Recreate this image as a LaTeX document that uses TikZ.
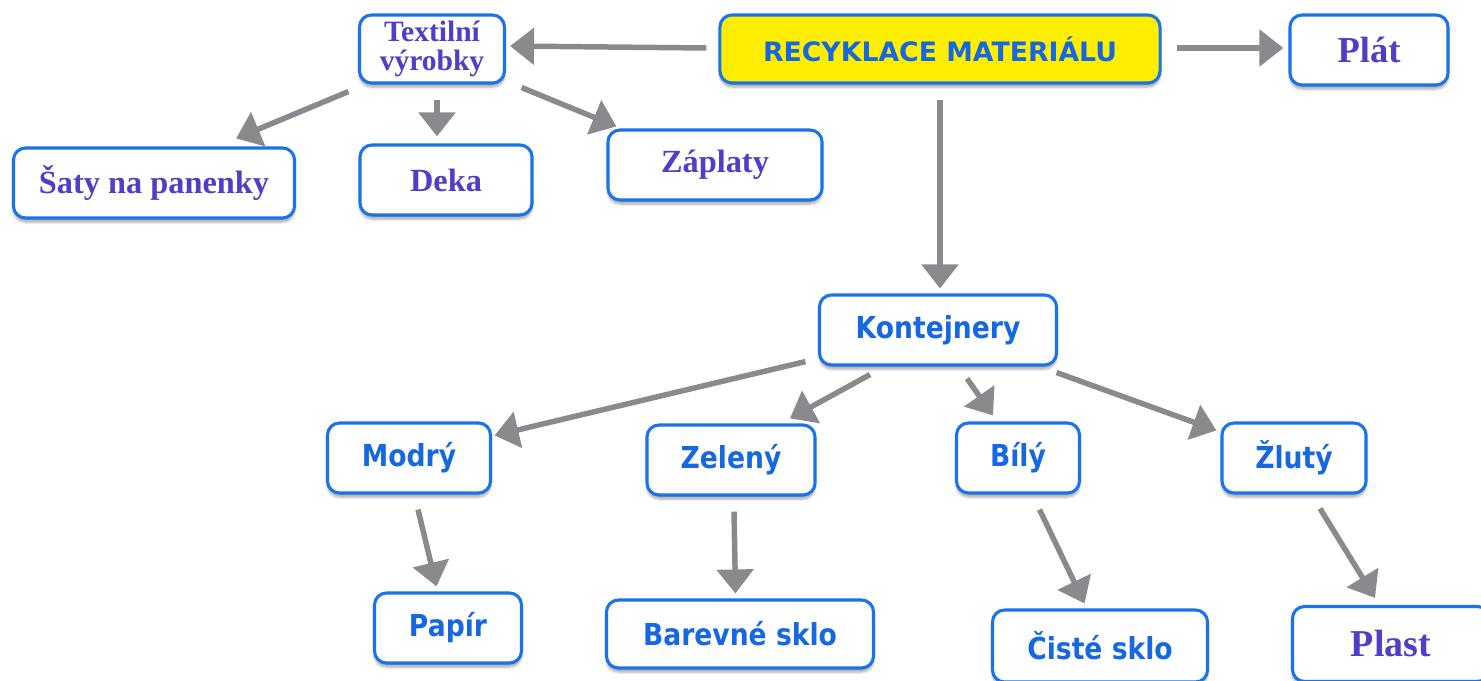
\documentclass[tikz,border=0pt]{standalone}
\usepackage{fontspec}
\setmainfont{Liberation Serif}
\setsansfont{DejaVu Sans}
\newfontfamily\narrowsans[FakeStretch=0.88]{DejaVu Sans}
\usetikzlibrary{arrows.meta}
\usetikzlibrary{shadows.blur}
\definecolor{boxblue}{RGB}{26,115,232}
\definecolor{txtblue}{RGB}{22,104,226}
\definecolor{txtviolet}{RGB}{78,62,200}
\definecolor{arrgray}{RGB}{138,138,142}
\definecolor{recyellow}{RGB}{255,238,0}

\begin{document}
\begin{tikzpicture}[x=0.025cm,y=-0.025cm,
  box/.style={draw=boxblue,line width=2.2pt,rounded corners=0.3cm,fill=white,inner sep=0pt,
    blur shadow={shadow xshift=0pt,shadow yshift=-0.1cm,shadow blur steps=6,shadow opacity=35}},
  serlabel/.style={font=\rmfamily\bfseries\fontsize{23}{23}\selectfont,text=txtviolet},
  sanslabel/.style={font=\narrowsans\bfseries\fontsize{21.5}{21.5}\selectfont,text=txtblue},
  arr/.style={draw=arrgray,line width=3.9pt,-{Triangle[length=0.6cm,width=0.9cm]}}]
\useasboundingbox (0,0) rectangle (1481,680);

\node[box,sanslabel,font=\sffamily\bfseries\fontsize{19}{19}\selectfont,fill=recyellow,minimum width=11cm,minimum height=1.7cm] (rec) at (940,49) {RECYKLACE MATERIÁLU};
\node[box,serlabel,align=center,font=\rmfamily\bfseries\fontsize{21}{21}\selectfont,minimum width=3.625cm,minimum height=1.7cm] (tex) at (432,49) {Textilní\\výrobky};
\node[box,serlabel,font=\rmfamily\bfseries\fontsize{26}{26}\selectfont,minimum width=3.95cm,minimum height=1.75cm] (plat) at (1369,50) {Plát};

\node[box,serlabel,minimum width=7.025cm,minimum height=1.75cm] (saty) at (154,183) {Šaty na panenky};
\node[box,serlabel,minimum width=4.3cm,minimum height=1.75cm] (deka) at (446,180) {Deka};
\node[box,serlabel,minimum width=5.35cm,minimum height=1.75cm] (zap) at (715,165) {Záplaty};

\node[box,sanslabel,minimum width=5.925cm,minimum height=1.75cm] (kon) at (938,330) {Kontejnery};
\node[box,sanslabel,minimum width=4.075cm,minimum height=1.75cm] (mod) at (409,458) {Modrý};
\node[box,sanslabel,minimum width=4.2cm,minimum height=1.75cm] (zel) at (731,460) {Zelený};
\node[box,sanslabel,minimum width=3.075cm,minimum height=1.75cm] (bil) at (1018,458) {Bílý};
\node[box,sanslabel,minimum width=3.6cm,minimum height=1.75cm] (zlu) at (1294,458) {Žlutý};

\node[box,sanslabel,minimum width=3.675cm,minimum height=1.75cm] (pap) at (448,628) {Papír};
\node[box,sanslabel,minimum width=6.675cm,minimum height=1.7cm] (bar) at (740,634) {Barevné sklo};
\node[box,sanslabel,minimum width=5.375cm,minimum height=1.8cm] (cis) at (1100,646) {Čisté sklo};
\node[box,serlabel,font=\rmfamily\bfseries\fontsize{27}{27}\selectfont,minimum width=4.925cm,minimum height=1.875cm] (pla) at (1391,644) {Plast};

\draw[arr] ([shift={(-12,-1)}]rec.west) -- ([shift={(4,-3)}]tex.east);
\draw[arr] ([shift={(15,-1)}]rec.east) -- ([shift={(-5,-2)}]plat.west);
\draw[arr] ([shift={(0,15)}]rec.south) -- ([shift={(2,-5)}]kon.north);

\draw[arr] ([shift={(-9.5,7)}]tex.south west) -- ([shift={(-60,-8)}]saty.north east);
\draw[arr] ([shift={(5,15)}]tex.south) -- ([shift={(-9,-7)}]deka.north);
\draw[arr] ([shift={(15.5,3)}]tex.south east) -- ([shift={(10,-2)}]zap.north west);

\draw[arr] ([shift={(-12.5,-5)}]kon.south west) -- ([shift={(2.5,14)}]mod.north east);
\draw[arr] ([shift={(-68,8)}]kon.south) -- ([shift={(59,-5)}]zel.north);
\draw[arr] ([shift={(29,12)}]kon.south) -- ([shift={(-25,-6)}]bil.north);
\draw[arr] ([shift={(-1.5,6)}]kon.south east) -- ([shift={(-4,9)}]zlu.north west);

\draw[arr] ([shift={(9,15)}]mod.south) -- ([shift={(-11.5,-5)}]pap.north);
\draw[arr] ([shift={(3,15)}]zel.south) -- ([shift={(-4.5,-5)}]bar.north);
\draw[arr] ([shift={(21.5,15)}]bil.south) -- ([shift={(-15.5,-5)}]cis.north);
\draw[arr] ([shift={(26,14)}]zlu.south) -- ([shift={(-16,-7)}]pla.north);

\end{tikzpicture}
\end{document}
